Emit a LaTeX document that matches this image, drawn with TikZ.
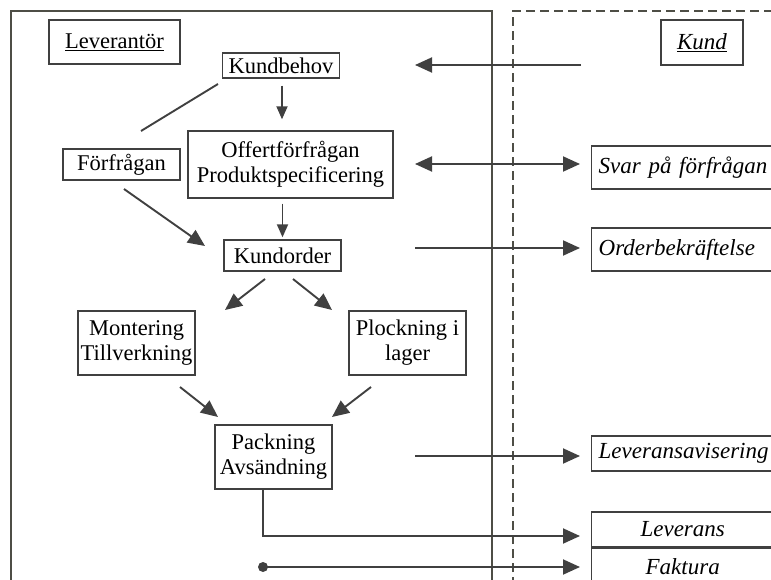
\documentclass[tikz,border=0pt]{standalone}
\usepackage{fontspec}
\setmainfont{Liberation Serif}
\usetikzlibrary{arrows.meta}
\definecolor{ink}{RGB}{64,64,64}
\definecolor{lane}{RGB}{78,78,70}
\begin{document}
\begin{tikzpicture}[x=1pt,y=-1pt,
  box/.style={draw=ink, line width=1.4pt, fill=white, inner sep=1pt, align=center,
    font=\fontsize{22.5}{25}\selectfont, text=black},
  tagbox/.style={box, anchor=west, text width=176, align=left, inner xsep=7,
    font=\fontsize{23}{26}\selectfont\itshape},
  midbox/.style={box, anchor=west, text width=168, align=center, inner xsep=7,
    font=\fontsize{23}{26}\selectfont\itshape},
  bigtip/.tip={Triangle[length=17pt,width=15pt]},
  smalltip/.tip={Triangle[length=13pt,width=11pt]},
  wire/.style={draw=ink, line width=1.9pt},
  flow/.style={wire, -bigtip},
  thinflow/.style={wire, -smalltip},
]
\useasboundingbox (0,0) rectangle (771,580);
\clip (0,0) rectangle (771,580);

% swim lanes: supplier (solid) and customer (dashed)
\draw[lane, line width=2pt] (11,600) |- (492,11) -- (492,600);
\draw[lane, line width=1.6pt, dash pattern=on 9pt off 5pt] (513,600) |- (800,11);

% supplier side
\node[box, minimum width=131, minimum height=44] (lev) at (114.5,42) {\underline{Leverantör}};
\node[box, minimum width=117, minimum height=25] (kundbehov) at (281,65.5) {Kundbehov};
\node[box, minimum width=205, minimum height=67] (offert) at (290.5,164.5) {Offertförfrågan\\Produktspecificering};
\node[box, minimum width=117, minimum height=31] (forfragan) at (121.5,164.5) {Förfrågan};
\node[box, minimum width=117, minimum height=31] (kundorder) at (282.5,255.5) {Kundorder};
\node[box, minimum width=117, minimum height=64] (montering) at (136.5,343) {Montering\\Tillverkning};
\node[box, minimum width=117, minimum height=64] (plockning) at (407.5,343) {Plockning i\\lager};
\node[box, minimum width=117, minimum height=64] (packning) at (273.5,457) {Packning\\Avsändning};

% customer side
\node[box, minimum width=82, minimum height=45, font=\fontsize{23}{26}\selectfont\itshape] (kund) at (702,42.5) {\underline{Kund}};
\node[tagbox, minimum height=43] (svar) at (591,167.5) {Svar på förfrågan};
\node[tagbox, minimum height=43] (order) at (591,249.5) {Orderbekräftelse};
\node[tagbox, minimum height=35] (avis) at (591,453.5) {Leveransavisering};
\node[midbox, minimum height=35] (leverans) at (591,529.5) {Leverans};
\node[midbox, minimum height=36, anchor=north west] (faktura) at (leverans.south west) {Faktura};

% connector ends
\coordinate (needA) at (218,84);
\coordinate (needB) at (141,131);
\coordinate (reqA) at (124,189);
\coordinate (reqB) at (205,246);
\coordinate (ordL) at (265,279);
\coordinate (monT) at (225,310);
\coordinate (ordR) at (293,279);
\coordinate (ploT) at (332,310);
\coordinate (monB) at (180,387);
\coordinate (packL) at (218,417);
\coordinate (ploB) at (371,387);
\coordinate (packR) at (332,417);
\coordinate (needIn) at (581,65);
\coordinate (needTip) at (415,65);
\coordinate (svarL) at (415,164);
\coordinate (svarR) at (580,164);
\coordinate (ordA) at (415,248);
\coordinate (ordB) at (580,248);
\coordinate (avisA) at (415,456);
\coordinate (avisB) at (580,456);
\coordinate (packOut) at (263,489);
\coordinate (levB) at (580,536);
\coordinate (invA) at (263,567);
\coordinate (invB) at (580,567);

% internal flow
\draw[wire] (needA) -- (needB);
\draw[thinflow, shorten <=7pt, shorten >=11pt] (kundbehov.south -| 282,0) -- (offert.north -| 282,0);
\draw[flow] (reqA) -- (reqB);
\draw[thinflow, shorten <=5pt, shorten >=2pt] (kundorder |- offert.south) -- (kundorder.north);
\draw[flow] (ordL) -- (monT);
\draw[flow] (ordR) -- (ploT);
\draw[flow] (monB) -- (packL);
\draw[flow] (ploB) -- (packR);

% exchange between supplier and customer
\draw[flow] (needIn) -- (needTip);
\draw[wire, bigtip-bigtip] (svarL) -- (svarR);
\draw[flow] (ordA) -- (ordB);
\draw[flow] (avisA) -- (avisB);
\draw[flow] (packOut) |- (levB);
\draw[flow] (invA) -- (invB);
\fill[ink] (invA) circle (5);
\end{tikzpicture}
\end{document}
